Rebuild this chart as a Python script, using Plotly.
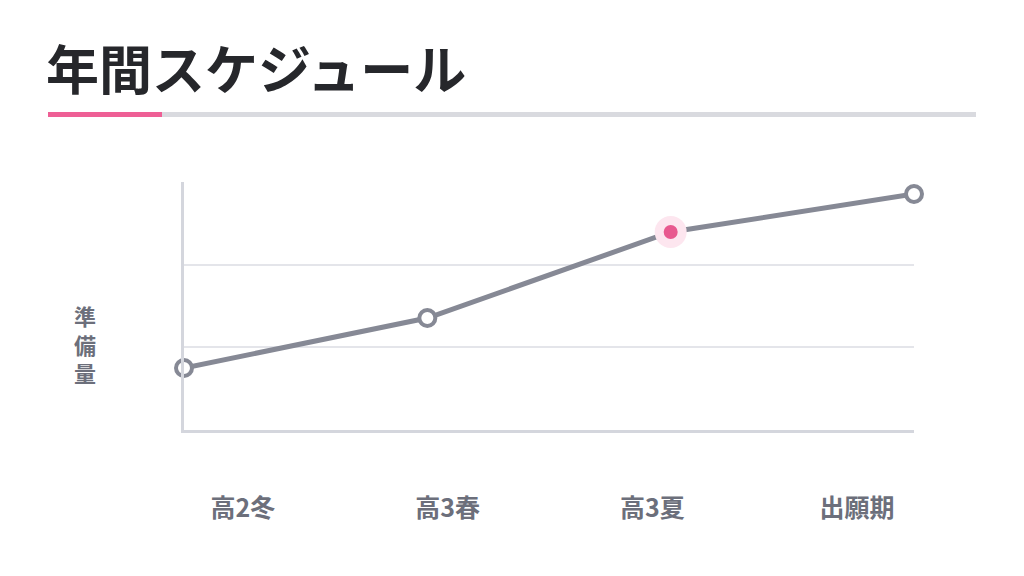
import plotly.graph_objects as go

categories = ["高2冬", "高3春", "高3夏", "出願期"]
values = [0.75, 1.355, 2.395, 2.855]
highlight_index = 2
title_text = "年間スケジュール"
y_label = "準備量"

W, H = 1024, 576
L, R, T, B = 184, 110, 182, 146
PW, PH = W - L - R, H - T - B

def px(x):
    return (x - L) / PW

def py(y):
    return (H - B - y) / PH

line_gray = "#868995"
pink = "#e8598f"
halo = "#fde6ef"
label_gray = "#6c6f7b"

fig = go.Figure()
fig.add_trace(go.Scatter(
    x=categories, y=values, mode="lines",
    line=dict(color=line_gray, width=5),
    hoverinfo="skip", showlegend=False, cliponaxis=False,
))
others = [i for i in range(len(categories)) if i != highlight_index]
fig.add_trace(go.Scatter(
    x=[categories[i] for i in others], y=[values[i] for i in others],
    mode="markers",
    marker=dict(size=16, color="white", line=dict(color=line_gray, width=4)),
    showlegend=False, cliponaxis=False,
))
fig.add_trace(go.Scatter(
    x=[categories[highlight_index]], y=[values[highlight_index]],
    mode="markers",
    marker=dict(size=32, color=halo, line=dict(width=0)),
    showlegend=False, cliponaxis=False,
))
fig.add_trace(go.Scatter(
    x=[categories[highlight_index]], y=[values[highlight_index]],
    mode="markers",
    marker=dict(size=14, color=pink, line=dict(width=0)),
    showlegend=False, cliponaxis=False,
))
# invisible trace carrying the category labels on a second x-axis
fig.add_trace(go.Scatter(
    x=categories, y=[None] * len(categories), xaxis="x2", yaxis="y",
    mode="markers", showlegend=False, hoverinfo="skip",
))

font_family = "Noto Sans CJK JP"

fig.update_layout(
    width=W, height=H,
    margin=dict(l=L, r=R, t=T, b=B),
    paper_bgcolor="white", plot_bgcolor="white",
    font=dict(family=font_family),
    xaxis=dict(
        type="category", range=[0, 3],
        showgrid=False, zeroline=False, showticklabels=False,
        showline=True, linecolor="#d4d6dd", linewidth=3,
        ticks="",
    ),
    xaxis2=dict(
        type="category", range=[-0.288, 3.278], overlaying="x", side="bottom",
        showgrid=False, zeroline=False, showline=False,
        ticks="", ticklabelstandoff=61,
        tickfont=dict(size=25, color=label_gray, family=font_family, weight="bold"),
    ),
    yaxis=dict(
        range=[0, 3], tickvals=[1, 2], showticklabels=False,
        showgrid=True, gridcolor="#e4e5ea", gridwidth=1.5,
        zeroline=False, showline=True, linecolor="#d4d6dd", linewidth=3,
        ticks="",
    ),
    hovermode=False,
)

fig.add_annotation(
    text=title_text, xref="paper", yref="paper",
    x=px(44), y=py(67), xanchor="left", yanchor="middle",
    showarrow=False,
    font=dict(size=53, color="#26272b", family=font_family, weight="bold"),
)
fig.add_annotation(
    text="<br>".join(list(y_label)), xref="paper", yref="paper",
    x=px(85), y=py(343), xanchor="center", yanchor="middle",
    showarrow=False, align="center",
    font=dict(size=22, color=label_gray, family=font_family, weight="bold"),
)

fig.add_shape(type="rect", xref="paper", yref="paper",
              x0=px(48), x1=px(976), y0=py(117), y1=py(112),
              fillcolor="#d9dadf", line=dict(width=0), layer="below")
fig.add_shape(type="rect", xref="paper", yref="paper",
              x0=px(48), x1=px(162), y0=py(117), y1=py(112),
              fillcolor="#ee5f95", line=dict(width=0))

fig.write_html("out.html")
